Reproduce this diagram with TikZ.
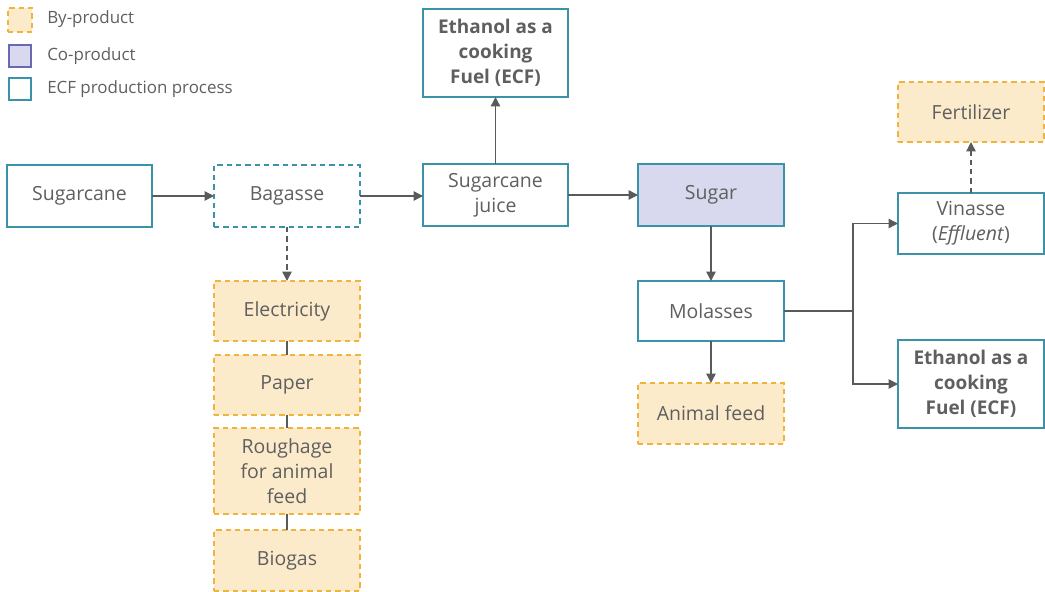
\documentclass[tikz,border=0pt]{standalone}
\usepackage{fontspec}
\setmainfont{Open Sans}
\usetikzlibrary{arrows.meta}
\definecolor{teal1}{HTML}{3A93A8}
\definecolor{byfill}{HTML}{FCEBCB}
\definecolor{byline}{HTML}{F0B43C}
\definecolor{cofill}{HTML}{D8D9EF}
\definecolor{coline}{HTML}{6A68B0}
\definecolor{txt}{HTML}{5F5F5F}
\definecolor{arr}{HTML}{5A5A5A}
\tikzset{
  bx/.style 2 args={minimum width={#1*0.75pt}, minimum height={#2*0.75pt}, inner sep=0pt, outer sep=0pt, align=center, text=txt, font=\fontsize{14.6}{18.7}\selectfont},
  proc/.style={draw=teal1, line width=1.1pt, fill=white},
  ecf/.style={draw=teal1, line width=2pt, fill=white, font=\fontsize{14.2}{18.7}\selectfont\bfseries},
  byp/.style={draw=byline, line width=1.1pt, dashed, dash pattern=on 4pt off 3pt, fill=byfill},
  cop/.style={draw=teal1, line width=1.1pt, fill=cofill},
  bag/.style={draw=teal1, line width=1.1pt, dashed, dash pattern=on 4pt off 3pt, fill=white},
  conn/.style={draw=arr, line width=1pt},
  arrow/.style={conn, -{Triangle[length=7pt,width=7pt]}},
  legt/.style={anchor=west, text=txt, inner sep=0pt, font=\fontsize{12.7}{15}\selectfont},
}
\begin{document}
\begin{tikzpicture}[x=0.75pt,y=-0.75pt]
\useasboundingbox (0,0) rectangle (1045,592);
% legend
\node[bx={24}{24}, byp] (lb) at (20,20) {};
\node[legt] (lbt) at (47,19) {By-product};
\node[bx={22}{22}, draw=coline, line width=1.1pt, fill=cofill] (lc) at (20,56) {};
\node[legt] (lct) at (47,56) {Co-product};
\node[bx={22}{22}, proc] (le) at (20,89) {};
\node[legt] (let) at (47,89) {ECF production process};
% main nodes
\node[bx={145}{62}, proc] (cane) at (79.5,196) {Sugarcane};
\node[bx={146}{62}, bag] (bag) at (287,196) {Bagasse};
\node[bx={145}{62}, proc] (juice) at (495.5,195) {Sugarcane\\juice};
\node[bx={145}{88}, ecf] (ethtop) at (495.5,53) {Ethanol as a\\cooking\\Fuel (ECF)};
\node[bx={146}{62}, cop] (sugar) at (711,195) {Sugar};
\node[bx={146}{60}, proc] (mol) at (711,311) {Molasses};
\node[bx={146}{61}, byp] (feed) at (711,413.5) {Animal feed};
\node[bx={146}{60}, byp] (fert) at (971,112) {Fertilizer};
\node[bx={146}{61}, proc] (vin) at (971,223.5) {Vinasse\\(\textit{Effluent})};
\node[bx={146}{88}, ecf] (ethr) at (971,384) {Ethanol as a\\cooking\\Fuel (ECF)};
\node[bx={146}{60}, byp] (elec) at (287,311) {Electricity};
\node[bx={146}{60}, byp] (paper) at (287,385) {Paper};
\node[bx={146}{86}, byp] (rough) at (287,471) {Roughage\\for animal\\feed};
\node[bx={146}{61}, byp] (bio) at (287,560.5) {Biogas};
\coordinate (junc) at (853,311);
% connectors
\draw[arrow] (cane) -- (bag);
\draw[arrow] (bag) -- (bag -| juice.west);
\draw[arrow] (juice) -- (ethtop);
\draw[arrow] (juice) -- (sugar);
\draw[arrow, dashed, dash pattern=on 4pt off 3pt] (bag) -- (elec);
\draw[conn] (elec) -- (paper);
\draw[conn] (paper) -- (rough);
\draw[conn] (rough) -- (bio);
\draw[arrow] (sugar) -- (mol);
\draw[arrow] (mol) -- (feed);
\draw[conn] (mol) -- (junc);
\draw[arrow] (junc) |- (vin.west);
\draw[arrow] (junc) |- (ethr.west);
\draw[arrow, dashed, dash pattern=on 4pt off 3pt] (vin) -- (fert);
\end{tikzpicture}
\end{document}
